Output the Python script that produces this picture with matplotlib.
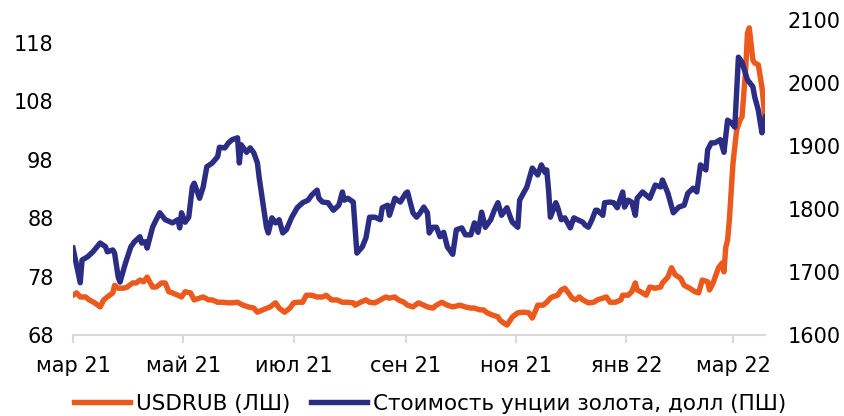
import matplotlib.pyplot as plt
import pandas as pd

# data (day offsets from 1 Mar 2021)
start = pd.Timestamp('2021-03-01')

rub_days = [0, 2, 4, 7, 9, 12, 15, 17, 19, 22,
            23, 25, 28, 30, 33, 35, 37, 39, 41, 44,
            46, 49, 51, 53, 55, 58, 60, 62, 65, 67,
            70, 72, 75, 77, 80, 83, 86, 88, 91, 94,
            97, 100, 102, 105, 109, 112, 114, 117, 120, 122,
            124, 127, 129, 132, 135, 138, 140, 143, 146, 149,
            152, 155, 156, 159, 162, 164, 167, 170, 173, 175,
            178, 180, 183, 185, 188, 191, 194, 196, 199, 201,
            204, 207, 210, 214, 217, 220, 222, 225, 227, 229,
            232, 235, 236, 238, 240, 242, 243, 246, 249, 252,
            254, 256, 257, 260, 262, 264, 265, 268, 270, 272,
            274, 276, 278, 280, 282, 285, 288, 290, 293, 295,
            297, 300, 303, 304, 307, 309, 311, 312, 315, 317,
            319, 322, 325, 326, 329, 331, 333, 336, 338, 341,
            344, 346, 348, 351, 352, 354, 357, 359, 360, 361,
            362, 363, 365, 367, 369, 370, 372, 373, 374, 376,
            377, 379, 381, 382, 383]
rub_vals = [74.8, 75.2, 74.5, 74.5, 74.0, 73.5, 72.8, 74.0, 74.5, 75.2,
            76.5, 76.0, 76.0, 76.2, 76.9, 76.9, 77.4, 77.1, 77.9, 76.2,
            76.2, 76.9, 76.9, 75.4, 75.2, 74.8, 74.5, 75.4, 75.2, 74.0,
            74.3, 74.5, 74.0, 74.0, 73.6, 73.6, 73.5, 73.5, 73.6, 73.1,
            72.8, 72.6, 71.9, 72.3, 72.8, 73.5, 72.6, 71.9, 72.6, 73.5,
            73.6, 73.6, 74.8, 74.8, 74.5, 74.5, 74.8, 74.0, 74.0, 73.6,
            73.6, 73.5, 73.1, 73.6, 74.0, 73.6, 73.5, 74.0, 74.5, 74.3,
            74.5, 74.0, 73.6, 73.1, 72.8, 73.5, 73.1, 72.8, 72.6, 73.1,
            73.6, 73.1, 72.8, 73.1, 72.8, 72.6, 72.6, 72.3, 72.3, 71.8,
            71.4, 71.1, 70.6, 70.1, 69.7, 70.6, 71.1, 71.8, 71.9, 71.8,
            70.9, 72.3, 73.1, 73.1, 73.6, 74.3, 74.5, 74.8, 75.7, 76.0,
            75.2, 74.3, 74.0, 74.5, 74.0, 73.5, 73.6, 74.0, 74.3, 74.5,
            73.6, 73.6, 74.0, 74.8, 74.8, 75.4, 76.9, 75.7, 75.2, 74.8,
            76.2, 76.0, 76.2, 76.9, 77.9, 79.5, 78.3, 77.7, 76.5, 76.0,
            75.4, 75.2, 77.4, 77.1, 75.7, 76.9, 79.5, 80.3, 78.8, 83.0,
            84.2, 87.7, 97.4, 103.0, 104.8, 105.3, 113.3, 119.6, 120.5, 115.0,
            114.5, 114.2, 110.4, 107.3, 103.0]

gold_days = [0, 4, 5, 8, 11, 15, 18, 19, 22, 23,
             25, 26, 29, 32, 34, 37, 38, 40, 41, 44,
             46, 48, 51, 55, 58, 59, 60, 62, 64, 66,
             67, 70, 72, 74, 77, 80, 81, 84, 86, 88,
             91, 92, 93, 96, 98, 100, 102, 103, 105, 107,
             108, 110, 112, 114, 116, 118, 121, 124, 127, 130,
             132, 135, 136, 138, 141, 144, 147, 149, 150, 152,
             155, 157, 160, 162, 164, 167, 170, 171, 174, 175,
             178, 181, 184, 185, 188, 190, 192, 194, 196, 197,
             199, 201, 203, 205, 207, 210, 212, 215, 217, 220,
             222, 224, 226, 228, 231, 233, 235, 237, 240, 242,
             243, 246, 247, 251, 254, 257, 259, 261, 262, 263,
             264, 267, 268, 270, 272, 275, 277, 279, 282, 283,
             285, 287, 289, 290, 293, 294, 297, 299, 301, 304,
             305, 307, 309, 311, 312, 315, 319, 322, 325, 326,
             329, 332, 335, 338, 340, 343, 345, 347, 350, 351,
             353, 355, 358, 360, 362, 364, 366, 368, 370, 373,
             376, 377, 379, 381, 382, 383]
gold_vals = [1738, 1683, 1719, 1724, 1732, 1746, 1740, 1732, 1735, 1730,
             1692, 1684, 1714, 1740, 1748, 1756, 1746, 1748, 1738, 1771,
             1783, 1794, 1783, 1778, 1783, 1770, 1794, 1779, 1787, 1835,
             1841, 1817, 1835, 1867, 1873, 1883, 1898, 1897, 1905, 1910,
             1913, 1873, 1902, 1890, 1897, 1889, 1873, 1849, 1810, 1771,
             1762, 1786, 1778, 1783, 1762, 1767, 1787, 1802, 1810, 1814,
             1822, 1830, 1817, 1811, 1810, 1798, 1806, 1827, 1814, 1817,
             1811, 1730, 1740, 1754, 1787, 1787, 1783, 1802, 1806, 1790,
             1817, 1811, 1825, 1827, 1794, 1787, 1794, 1803, 1794, 1762,
             1771, 1771, 1756, 1763, 1740, 1728, 1767, 1770, 1759, 1759,
             1778, 1763, 1795, 1771, 1783, 1798, 1810, 1790, 1802, 1786,
             1779, 1771, 1814, 1835, 1865, 1854, 1870, 1858, 1862, 1830,
             1787, 1810, 1803, 1783, 1786, 1770, 1786, 1783, 1779, 1775,
             1771, 1783, 1798, 1798, 1790, 1810, 1811, 1810, 1802, 1827,
             1803, 1814, 1811, 1790, 1817, 1827, 1817, 1838, 1835, 1846,
             1825, 1794, 1803, 1806, 1825, 1833, 1827, 1870, 1862, 1894,
             1905, 1905, 1910, 1890, 1941, 1937, 1930, 2041, 2033, 2005,
             1994, 1978, 1957, 1921, 1937, 1946]

tick_dates = ['2021-03-01', '2021-05-01', '2021-07-01', '2021-09-01',
              '2021-11-01', '2022-01-01', '2022-03-01']
tick_labels = ['мар 21', 'май 21', 'июл 21', 'сен 21', 'ноя 21', 'янв 22', 'мар 22']

orange = '#EB5A1C'
navy = '#2B2D84'
grey = '#D9D9D9'

rub_dates = start + pd.to_timedelta(rub_days, unit='D')
gold_dates = start + pd.to_timedelta(gold_days, unit='D')

fig = plt.figure(figsize=(8.45, 4.16), dpi=100)
ax = fig.add_axes([73 / 845, 1 - 335 / 416, (765 - 73) / 845, (335 - 20) / 416])
ax2 = ax.twinx()

l1, = ax.plot(rub_dates, rub_vals, color=orange, lw=3.9, solid_joinstyle='round',
              label='USDRUB (ЛШ)')
l2, = ax2.plot(gold_dates, gold_vals, color=navy, lw=3.9, solid_joinstyle='round',
               label='Стоимость унции золота, долл (ПШ)')

ax.set_xlim(start, start + pd.Timedelta(days=382.7))
ax.set_ylim(68, 121.85)
ax.set_yticks([68, 78, 88, 98, 108, 118])
ax2.set_ylim(1600, 2100)
ax2.set_yticks(range(1600, 2101, 100))
ax.set_xticks(pd.to_datetime(tick_dates))
ax.set_xticklabels(tick_labels)

for a in (ax, ax2):
    for s in ['top', 'left', 'right']:
        a.spines[s].set_visible(False)
ax2.spines['bottom'].set_visible(False)
ax.spines['bottom'].set_color(grey)
ax.spines['bottom'].set_linewidth(1.5)

ax.tick_params(axis='x', length=6, width=1.5, color=grey, pad=9, labelsize=15)
ax.tick_params(axis='y', length=0, pad=14, labelsize=15)
ax2.tick_params(axis='y', length=0, pad=16, labelsize=15)

fig.legend([l1, l2], [l1.get_label(), l2.get_label()], loc='center',
           bbox_to_anchor=(0.509, 1 - 404 / 416), ncol=2, frameon=False,
           fontsize=15.5, handlelength=2.6, handletextpad=0.25, columnspacing=1.0)

plt.savefig('out.png', dpi=100)
